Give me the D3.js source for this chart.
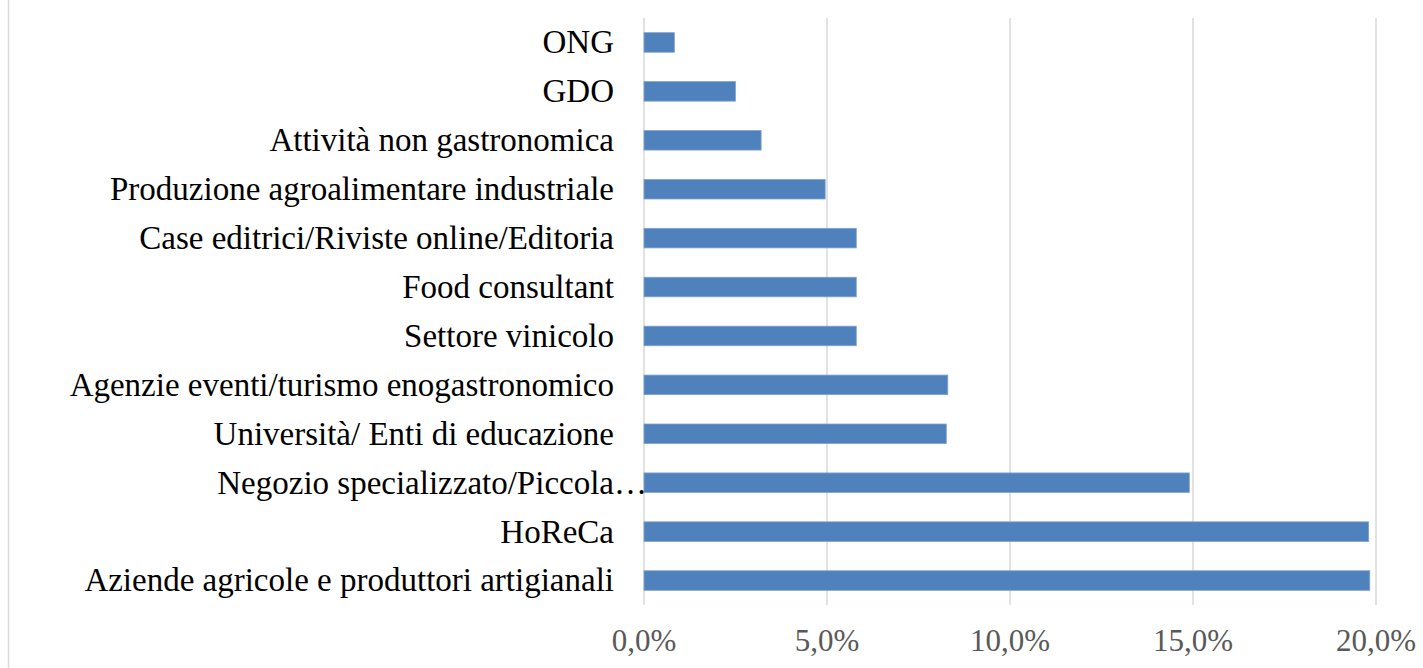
<!DOCTYPE html>
<html>
<head>
<meta charset="utf-8">
<script src="https://cdn.jsdelivr.net/npm/d3@7"></script>
<style>
  body { margin: 0; background: #fff; }
  .label { font-family: "Liberation Serif", "DejaVu Serif", serif; font-size: 33px; fill: #000; }
  .tick-label { font-family: "Liberation Serif", "DejaVu Serif", serif; font-size: 31px; fill: #595959; }
</style>
</head>
<body>
<div class="chart"></div>
<script>
var svgWidth = 1423;
var svgHeight = 668;

// categories from top to bottom
var categories = [
  "ONG",
  "GDO",
  "Attività non gastronomica",
  "Produzione agroalimentare industriale",
  "Case editrici/Riviste online/Editoria",
  "Food consultant",
  "Settore vinicolo",
  "Agenzie eventi/turismo enogastronomico",
  "Università/ Enti di educazione",
  "Negozio specializzato/Piccola…",
  "HoReCa",
  "Aziende agricole e produttori artigianali"
];
var values = [0.83, 2.5, 3.2, 4.95, 5.8, 5.8, 5.8, 8.3, 8.26, 14.9, 19.8, 19.83];
var ticks = [0, 5, 10, 15, 20];

var itLocale = d3.formatLocale({ decimal: ",", thousands: ".", grouping: [3], currency: ["", "€"] });
var fmt = itLocale.format(".1f");

var svg = d3.select(".chart")
  .append("svg")
  .attr("width", svgWidth)
  .attr("height", svgHeight);

// chart border (only the left edge is visible in the crop)
svg.append("line")
  .attr("x1", 8.5).attr("x2", 8.5)
  .attr("y1", 0).attr("y2", svgHeight)
  .attr("stroke", "#d9d9d9")
  .attr("stroke-width", 1.5);

var xScale = d3.scaleLinear()
  .domain([0, 20])
  .range([644, 1376]);

var yScale = d3.scaleBand()
  .domain(categories)
  .range([18, 605])
  .paddingInner(0.6)
  .paddingOuter(0.3);

// gridlines
svg.append("g")
  .selectAll("line")
  .data(ticks)
  .enter()
  .append("line")
  .attr("x1", d => xScale(d))
  .attr("x2", d => xScale(d))
  .attr("y1", 18)
  .attr("y2", 605)
  .attr("stroke", "#d9d9d9")
  .attr("stroke-width", 1.5);

// bars
svg.append("g")
  .selectAll("rect")
  .data(values)
  .enter()
  .append("rect")
  .attr("x", xScale(0))
  .attr("y", (d, i) => yScale(categories[i]))
  .attr("width", d => xScale(d) - xScale(0))
  .attr("height", yScale.bandwidth())
  .attr("fill", "#4f81bd")
  .attr("stroke", "#7fa3d1")
  .attr("stroke-width", 0.8);

// category labels, right aligned; a trailing ellipsis hangs past the edge
var labelX = 614;
var labels = svg.append("g");
categories.forEach(function(c) {
  var cy = yScale(c) + yScale.bandwidth() / 2;
  var trunc = c.endsWith("…");
  labels.append("text")
    .attr("class", "label")
    .attr("x", labelX)
    .attr("y", cy)
    .attr("dy", "0.33em")
    .attr("text-anchor", "end")
    .text(trunc ? c.slice(0, -1) : c);
  if (trunc) {
    labels.append("text")
      .attr("class", "label")
      .attr("x", labelX)
      .attr("y", cy)
      .attr("dy", "0.33em")
      .text("…");
  }
});

// x axis tick labels
svg.append("g")
  .selectAll("text")
  .data(ticks)
  .enter()
  .append("text")
  .attr("class", "tick-label")
  .attr("x", d => xScale(d))
  .attr("y", 651)
  .attr("text-anchor", "middle")
  .text(d => fmt(d) + "%");
</script>
</body>
</html>
